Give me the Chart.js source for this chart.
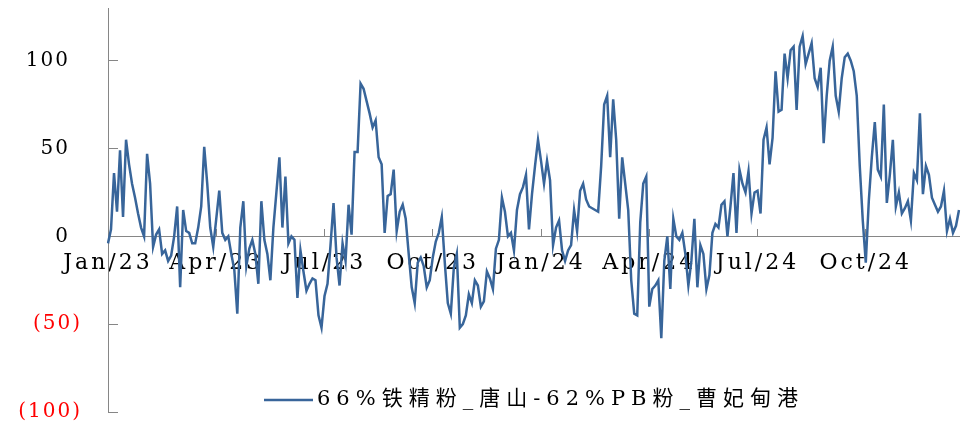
<!DOCTYPE html>
<html>
<head>
<meta charset="utf-8">
<script src="https://cdn.jsdelivr.net/npm/chart.js@4.4.1/dist/chart.umd.min.js"></script>
<style>
  html, body { margin: 0; padding: 0; background: #fff; }
  #wrap { width: 973px; height: 424px; }
</style>
</head>
<body>
<div id="wrap"><canvas id="myChart" width="973" height="424"></canvas></div>
<script>
// tick labels
const quarterLabels = ['Jan/23', 'Apr/23', 'Jul/23', 'Oct/23', 'Jan/24', 'Apr/24', 'Jul/24', 'Oct/24'];
const yTicks = [-100, -50, 0, 50, 100];
const seriesName = '66%铁精粉_唐山-62%PB粉_曹妃甸港';

// series values, one array per quarter
const q1_23 = [-4, 4, 36, 14, 49, 11, 55, 41, 30, 22, 13, 5, 0, 47, 30, -6, 1, 4, -10, -8,
  -14, -11, 0, 17, -29, 15, 3, 2, -4, -4, 5, 17, 51, 30, 5, -6];
const q2_23 = [10, 26, 2, -2, 0, -10, -19, -44, 5, 20, -17, -7, -2, -10, -27, 20, -2, -10, -25, 5,
  25, 45, 5, 34, -4, 0, -2, -35, -8, -20, -31, -27, -24, -25, -45, -52];
const q3_23 = [-34, -27, -5, 19, -12, -28, -4, -14, 18, 1, 48, 48, 87, 84, 77, 70, 62, 66, 45, 41,
  2, 23, 24, 38, 3, 14, 18, 10, -10, -29, -38, -15, -12, -17, -29, -25];
const q4_23 = [-12, -3, 2, 11, -15, -38, -44, -18, -10, -52, -50, -45, -33, -38, -25, -28, -40, -37, -20, -24,
  -30, -7, -2, 22, 14, 0, 2, -8, 15, 24, 28, 35, 4, 24, 40, 55];
const q1_24 = [43, 30, 43, 32, -5, 5, 9, -8, -14, -8, -5, 15, 3, 26, 30, 21, 17, 16, 15, 14,
  40, 75, 80, 45, 78, 55, 10, 45, 30, 15, -25, -44, -45, 8, 30, 34];
const q2_24 = [-40, -30, -28, -25, -58, -14, 0, -30, 10, 0, -2, 2, -10, -28, -14, 10, -29, -5, -10, -30,
  -22, 2, 7, 5, 18, 20, 0, 17, 36, 2, 38, 30, 25, 37, 13, 25];
const q3_24 = [26, 13, 55, 62, 41, 56, 94, 71, 72, 104, 90, 106, 108, 72, 108, 114, 98, 104, 110, 90,
  85, 96, 53, 80, 100, 108, 80, 71, 90, 102, 104, 100, 94, 80, 40, 9];
const q4_24 = [-15, 20, 45, 65, 38, 34, 75, 19, 35, 55, 17, 25, 13, 16, 20, 9, 36, 32, 70, 24,
  40, 35, 22, 18, 14, 17, 26, 3, 10, 2, 6, 15];

const quarters = [q1_23, q2_23, q3_23, q4_23, q1_24, q2_24, q3_24, q4_24];

// categories: quarter label on the first point of each quarter
const labels = [];
const values = [];
quarters.forEach((q, i) => {
  q.forEach((v, j) => {
    labels.push(j === 0 ? quarterLabels[i] : '');
    values.push(v);
  });
});

const lineColor = '#38659A';
const axisColor = '#868686';

// wider letter spacing for the axis labels
const spacing = {
  id: 'spacing',
  afterLayout(chart) {
    [['x', '3px'], ['y', '2px']].forEach(([id, sp]) => {
      const s = chart.scales[id];
      if (s._spaced) return;
      const orig = s.drawLabels;
      s.drawLabels = function (area) {
        this.ctx.save();
        this.ctx.letterSpacing = sp;
        orig.call(this, area);
        this.ctx.restore();
      };
      s._spaced = true;
    });
  }
};

// legend sits inside the plot, under the data
const insideLegend = {
  id: 'insideLegend',
  afterDraw(chart) {
    const ctx = chart.ctx;
    const ds = chart.data.datasets[0];
    ctx.save();
    ctx.strokeStyle = ds.borderColor;
    ctx.lineWidth = 2.5;
    ctx.beginPath();
    ctx.moveTo(264, 400);
    ctx.lineTo(313, 400);
    ctx.stroke();
    ctx.font = '21px "DejaVu Serif", "Noto Sans CJK SC"';
    ctx.letterSpacing = '6px';
    ctx.fillStyle = '#000';
    ctx.textAlign = 'left';
    ctx.textBaseline = 'middle';
    ctx.fillText(ds.label, 317, 400);
    ctx.restore();
  }
};

const data = {
  labels: labels,
  datasets: [{
    label: seriesName,
    data: values,
    borderColor: lineColor,
    borderWidth: 2.5,
    pointRadius: 0,
    tension: 0,
    fill: false
  }]
};

const config = {
  type: 'line',
  data,
  options: {
    responsive: false,
    animation: false,
    devicePixelRatio: 1,
    layout: { padding: { left: 0, right: 14, top: 8, bottom: 12 } },
    plugins: {
      legend: { display: false },
      tooltip: { enabled: false }
    },
    scales: {
      x: {
        type: 'category',
        position: { y: 0 },
        offset: false,
        grid: {
          drawOnChartArea: false,
          drawTicks: true,
          tickLength: -8,
          color: ctx => (ctx.tick && ctx.tick.label) ? axisColor : 'rgba(0,0,0,0)'
        },
        border: { display: true, color: axisColor, width: 1 },
        ticks: {
          autoSkip: false,
          maxRotation: 0,
          minRotation: 0,
          padding: 22,
          color: '#000',
          font: { family: '"DejaVu Serif"', size: 22 }
        },
        afterFit(s) {
          s.height = 0;
          s.paddingLeft = 0;
          s.paddingRight = 0;
        }
      },
      y: {
        position: 'left',
        min: -100,
        max: 130,
        afterBuildTicks(s) {
          s.ticks = yTicks.map(v => ({ value: v }));
        },
        grid: {
          drawOnChartArea: false,
          drawTicks: true,
          tickLength: -10,
          color: axisColor
        },
        border: { display: true, color: axisColor, width: 1 },
        ticks: {
          padding: 36,
          color: ctx => ctx.tick.value < 0 ? '#FF0000' : '#000000',
          font: { family: '"DejaVu Serif"', size: 20 },
          callback: v => v < 0 ? '(' + (-v) + ')' : v + '\u2002'
        },
        afterFit(s) {
          s.width = 108;
          s.paddingTop = 0;
          s.paddingBottom = 0;
        }
      }
    }
  },
  plugins: [spacing, insideLegend]
};

const myChart = new Chart(
  document.getElementById('myChart'),
  config
);
</script>
</body>
</html>
